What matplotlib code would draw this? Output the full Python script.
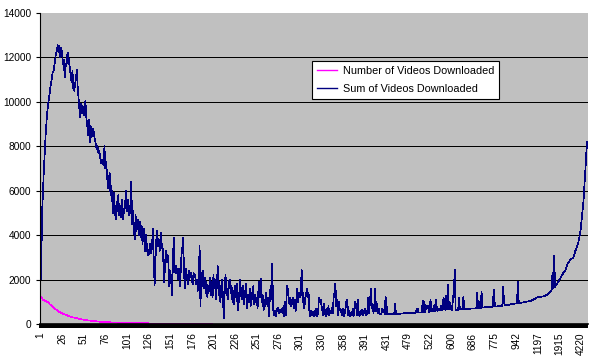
import numpy as np
import matplotlib
matplotlib.use('Agg')
import matplotlib.pyplot as plt

plt.rcParams['font.family'] = ['Liberation Sans', 'DejaVu Sans']

# category labels shown on the x axis (every 25th category)
x_labels = ['1', '26', '51', '76', '101', '126', '151', '176', '201', '226',
            '251', '276', '301', '330', '358', '391', '431', '479', '522', '600',
            '686', '775', '942', '1197', '1915', '4220']

# Sum of Videos Downloaded, one value per category
sum_videos = [
    # 0-24
    1700, 2900, 5100, 6100, 7000, 7800, 8500, 9100, 9600, 9950, 10200, 10500, 10800,
    11000, 11300, 11350, 11600, 11900, 12200, 12300, 12550, 12250, 12500, 12000, 12450,
    # 25-49
    12200, 11700, 11900, 11100, 11700, 11600, 12100, 12200, 11800, 11500, 11200, 10900, 11400,
    10600, 10500, 10800, 11000, 11450, 10700, 10200, 9700, 9300, 9900, 9500, 9800,
    # 50-74
    9400, 9900, 10050, 9300, 9000, 8500, 9200, 8200, 8900, 8400, 8700, 8800, 8500,
    8300, 8100, 7850, 8000, 7700, 7800, 7500, 7250, 7400, 7300, 7150, 8000,
    # 75-99
    7000, 7300, 6700, 6100, 6500, 6800, 5800, 6200, 5600, 5000, 5900, 5200, 4700,
    5500, 5100, 5800, 4900, 5300, 4800, 5600, 4700, 5200, 5000, 5500, 6000,
    # 100-124
    5100, 5600, 4900, 5300, 5000, 6400, 4500, 5100, 4300, 3800, 4900, 4200, 4400,
    4700, 4000, 4600, 3900, 4400, 3600, 4200, 4300, 3300, 4000, 3500, 3100,
    # 125-149
    3100, 3400, 3600, 3200, 3500, 4300, 2900, 1750, 2900, 3800, 4200, 3500, 3700,
    3300, 4100, 3400, 3600, 2900, 1900, 2600, 3300, 2800, 3100, 2700, 1700,
    # 150-174
    2400, 2100, 1300, 2500, 3900, 2700, 2300, 2600, 2400, 2000, 2500, 1700, 2200,
    3100, 3400, 3900, 2300, 1600, 2500, 2000, 2200, 1800, 2400, 2100, 2300,
    # 175-199
    2000, 1800, 2300, 2100, 2200, 1800, 2000, 1500, 1900, 3500, 800, 2300, 1700,
    2400, 1600, 2100, 1400, 1900, 1200, 1700, 1500, 2100, 1300, 1900, 1200,
    # 200-224
    2200, 1600, 2000, 1100, 1800, 2600, 1300, 1900, 1000, 1500, 2000, 1200, 250,
    1700, 2200, 1300, 1600, 1100, 1900, 2000, 1400, 1700, 1000, 1500, 900,
    # 225-249
    1700, 1200, 1800, 600, 1400, 1000, 2000, 1300, 1100, 1700, 900, 1500, 1200,
    1800, 700, 1300, 1000, 1600, 800, 1400, 1100, 1700, 900, 1300, 1000,
    # 250-274
    1200, 700, 1500, 1900, 1200, 2050, 1000, 1300, 600, 1100, 800, 1400, 900,
    1200, 350, 1000, 1700, 1100, 2700, 700, 400, 600, 350, 700, 600,
    # 275-299
    750, 500, 650, 550, 700, 500, 800, 350, 1000, 400, 1700, 1600, 1100,
    900, 1200, 800, 1000, 1200, 700, 1100, 600, 1000, 1600, 1000, 1400,
    # 300-324
    1200, 1500, 2430, 1000, 1400, 700, 1100, 1300, 1600, 1200, 1400, 500, 350,
    600, 400, 550, 350, 600, 400, 700, 350, 500, 1200, 1000, 1100,
    # 325-349
    800, 600, 400, 900, 500, 350, 700, 450, 800, 400, 600, 500, 750,
    500, 1200, 1400, 1830, 800, 1100, 400, 1000, 700, 550, 650, 400,
    # 350-374
    700, 360, 500, 800, 1100, 900, 400, 600, 360, 500, 400, 700, 360,
    600, 1000, 800, 400, 1100, 500, 370, 600, 450, 650, 380, 500,
    # 375-399
    700, 400, 390, 600, 1200, 500, 1000, 1600, 700, 900, 500, 800, 1600,
    600, 900, 500, 700, 430, 430, 430, 700, 550, 650, 430, 1230,
    # 400-424
    900, 435, 435, 440, 440, 445, 445, 450, 450, 450, 900, 455, 460,
    460, 460, 465, 465, 470, 470, 475, 480, 480, 480, 485, 485,
    # 425-449
    490, 490, 490, 495, 495, 500, 500, 500, 505, 505, 700, 700, 515,
    515, 520, 520, 525, 1050, 530, 1000, 540, 800, 700, 800, 550,
    # 450-474
    560, 1100, 570, 700, 580, 800, 590, 1100, 800, 600, 700, 610, 620,
    800, 620, 630, 1200, 900, 640, 1250, 650, 1750, 660, 1000, 670,
    # 475-499
    800, 620, 1200, 1450, 2460, 630, 630, 640, 640, 1160, 650, 660, 670,
    670, 1230, 670, 670, 680, 680, 680, 690, 690, 690, 700, 700,
    # 500-524
    700, 700, 705, 705, 710, 1400, 710, 1000, 715, 720, 1455, 740, 745,
    750, 750, 755, 760, 760, 765, 770, 770, 775, 775, 780, 1530,
    # 525-549
    1000, 785, 790, 790, 800, 800, 810, 810, 820, 820, 1680, 1000, 830,
    840, 840, 850, 860, 870, 880, 890, 900, 900, 910, 920, 920,
    # 550-574
    930, 940, 1905, 950, 950, 955, 960, 965, 970, 980, 990, 1000, 1005,
    1010, 1020, 1030, 1040, 1050, 1060, 1080, 1100, 1120, 1140, 1160, 1200,
    # 575-599
    1200, 1210, 1220, 1230, 1230, 1240, 1240, 1250, 1260, 1280, 1300, 1330, 1360,
    1400, 1430, 1460, 1500, 2300, 1600, 3060, 1680, 1740, 1800, 1860, 1920,
    # 600-624
    1990, 2060, 2130, 2200, 2270, 2330, 2380, 2430, 2550, 2650, 2750, 2800, 2850,
    2900, 2930, 2960, 3000, 3100, 3250, 3350, 3450, 3550, 3700, 3900, 4100,
    # 625-632
    4400, 4800, 5200, 5600, 6300, 6900, 7600, 8200,
]

# Number of Videos Downloaded (beyond ~200 it sits under the axis line)
num_videos = [
    1150, 1230, 1150, 1080, 1100, 1060, 1030, 1010, 1000, 960, 920, 880, 855,
    820, 780, 740, 710, 680, 650, 620, 590, 560, 540, 520, 500,
    480, 460, 450, 430, 415, 400, 385, 370, 355, 340, 330, 315, 305,
    295, 285, 275, 265, 255, 245, 238, 230, 222, 214, 206, 200,
    193, 186, 180, 174, 168, 162, 156, 150, 145, 140, 135, 131, 127,
    123, 120, 117, 114, 111, 108, 105, 102, 99, 96, 93, 90,
    88, 85, 83, 80, 78, 76, 74, 72, 70, 68, 66, 64, 62,
    60, 59, 57, 56, 55, 53, 52, 51, 50, 49, 48, 47,
    46, 45, 44, 43, 42, 42, 41, 40, 40, 39, 38, 38, 37,
    36, 36, 35, 35, 34, 33, 33, 32, 32, 31, 31, 30,
    30, 29, 29, 28, 28, 27, 27, 26, 26, 25, 25, 25, 24,
    24, 23, 23, 23, 22, 22, 21, 21, 21, 20, 20, 20,
    19, 19, 19, 18, 18, 18, 17, 17, 17, 16, 16, 16, 15,
    15, 15, 14, 14, 14, 13, 13, 13, 12, 12, 12, 12,
    11, 11, 11, 11, 10, 10, 10, 10, 10, 9, 9, 9, 9,
    9, 8, 8, 8, 8, 8, 8, 7, 7, 7, 7, 7,
]

n = len(sum_videos)

fig = plt.figure(figsize=(5.92, 3.63), dpi=100)
ax = fig.add_axes([0.0676, 0.1074, 0.9248, 0.8568])
ax.set_facecolor('#c0c0c0')

ax.plot(np.arange(len(num_videos)), num_videos, color='#ff00ff', lw=0.5,
        antialiased=False, label='Number of Videos Downloaded', zorder=2)
ax.plot(np.arange(n), sum_videos, color='#000080', lw=0.5,
        antialiased=False, label='Sum of Videos Downloaded', zorder=2)

ax.set_xlim(-0.5, n - 0.5)
ax.set_ylim(0, 14000)
yticks = list(range(0, 14001, 2000))
ax.set_yticks(yticks)
for y in yticks[1:-1]:
    ax.axhline(y, color='black', lw=0.72, antialiased=False, zorder=1)

ax.set_xticks(np.arange(0, 25 * len(x_labels), 25))
ax.set_xticklabels(x_labels, rotation=90, va='top')
ax.set_xticks(np.arange(n), minor=True)

ax.tick_params(axis='y', direction='out', length=3, width=0.8, pad=3.5,
               labelsize=7.3, colors='black')
ax.tick_params(axis='x', which='both', direction='out', length=2.6, width=1.4,
               pad=3.6, labelsize=7.3, colors='black')

for side in ['top', 'right']:
    ax.spines[side].set_visible(False)
ax.spines['left'].set_linewidth(0.8)
ax.spines['bottom'].set_linewidth(1.2)

leg = ax.legend(loc='upper left', bbox_to_anchor=(0.4968, 0.8457), fontsize=7.8,
                frameon=True, fancybox=False, edgecolor='black', framealpha=1,
                borderaxespad=0, handlelength=1.9, handletextpad=0.5,
                labelspacing=0.75, borderpad=0.45)
leg.get_frame().set_linewidth(0.8)
for line in leg.get_lines():
    line.set_linewidth(1.0)

fig.savefig('out.png', dpi=100)
